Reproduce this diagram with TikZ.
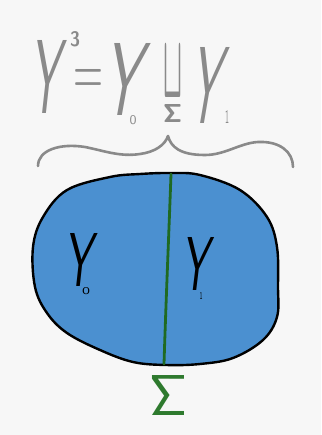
\documentclass[tikz,border=0pt]{standalone}
\usepackage{graphicx}
\definecolor{paper}{HTML}{F7F7F7}
\definecolor{pengray}{HTML}{8A8A8A}
\definecolor{blobblue}{HTML}{4B90D0}
\definecolor{cutgreen}{HTML}{1F6A22}
\definecolor{siggreen}{HTML}{2E7A2E}
\newcommand{\fitg}[3]{\resizebox{#1pt}{#2pt}{#3}}
\begin{document}
\begin{tikzpicture}[x=1pt,y=-1pt,
  glyph/.style={inner sep=0pt, outer sep=0pt, anchor=center},
  graytext/.style={glyph, text=pengray},
  blacktext/.style={glyph, text=black},
  slanted/.style={xslant=#1, transform shape},
  bracestroke/.style={draw=pengray, line width=2.6pt, line cap=round, line join=round},
  blobfill/.style={fill=blobblue, draw=black, line width=2.4pt, line join=round},
  cutline/.style={draw=cutgreen, line width=2.8pt, line cap=round}]
\fill[paper] (0,0) rectangle (321,435);
\useasboundingbox (0,0) rectangle (321,435);

% top formula
\node[graytext, slanted=0.11] (Y3)  at (49,76.5)   {\fitg{30}{73}{\textsf{Y}}};
\node[graytext] (e3)  at (75,39.5)  {\fitg{10}{15}{\textsf{\bfseries 3}}};
\node[graytext] (eq)  at (88,82.5)  {\fitg{30}{25}{$=$}};
\node[graytext, slanted=0.18] (Y0t) at (126.75,79) {\fitg{37}{72}{\textsf{Y}}};
\node[graytext] (s0t) at (133,120)  {\fitg{7}{9}{\textsf{0}}};
\node[graytext] (cup) at (172.5,72) {\fitg{19}{50}{\boldmath$\sqcup$}};
\node[graytext] (sgt) at (172.5,114){\fitg{19}{18}{\boldmath$\mathsf{\Sigma}$}};
\node[graytext, slanted=0.17] (Y1t) at (208.5,85) {\fitg{30}{76}{\textsf{Y}}};
\node[graytext] (s1t) at (227,117)  {\fitg{4}{13}{\textsf{1}}};

% brace
\coordinate (bl) at (38,166);
\coordinate (bc) at (168,136);
\coordinate (br) at (293,167);
\draw[bracestroke] (bl) .. controls (38,150) and (60,143) .. (85,147)
  .. controls (105,151) and (120,157) .. (140,154)
  .. controls (155,152) and (165,145) .. (bc);
\draw[bracestroke] (bc) .. controls (171,147) and (180,155) .. (205,155)
  .. controls (225,155) and (240,143) .. (258,142)
  .. controls (280,141) and (293,152) .. (br);

% blob
\path[blobfill] plot[smooth cycle, tension=0.6] coordinates {
 (171,173) (200,175) (240,190) (267,217) (277,247) (278,287) (277,317)
 (263,340) (233,358) (200,364) (166,365) (133,362) (100,350) (67,333)
 (47,313) (35,287) (33,247) (43,217) (67,190) (110,177) (140,174)};

% cut Sigma
\coordinate (st) at (171,174);
\coordinate (sb) at (164,364);
\draw[cutline] (st) .. controls (169,230) and (166,300) .. (sb);

% labels inside
\node[blacktext, slanted=0.11] (Y0) at (81,259.5)    {\fitg{28}{53}{\textsf{Y}}};
\node[blacktext] (s0) at (86,291.5) {\fitg{8}{7}{\textsf{0}}};
\node[blacktext, slanted=0.12] (Y1) at (198.25,263.5){\fitg{27}{53}{\textsf{Y}}};
\node[blacktext] (s1) at (201,295.5){\fitg{3}{7}{\textsf{1}}};

% Sigma under
\node[glyph, text=siggreen] (sig) at (169,395) {\fitg{38}{40}{$\mathsf{\Sigma}$}};
\end{tikzpicture}
\end{document}
